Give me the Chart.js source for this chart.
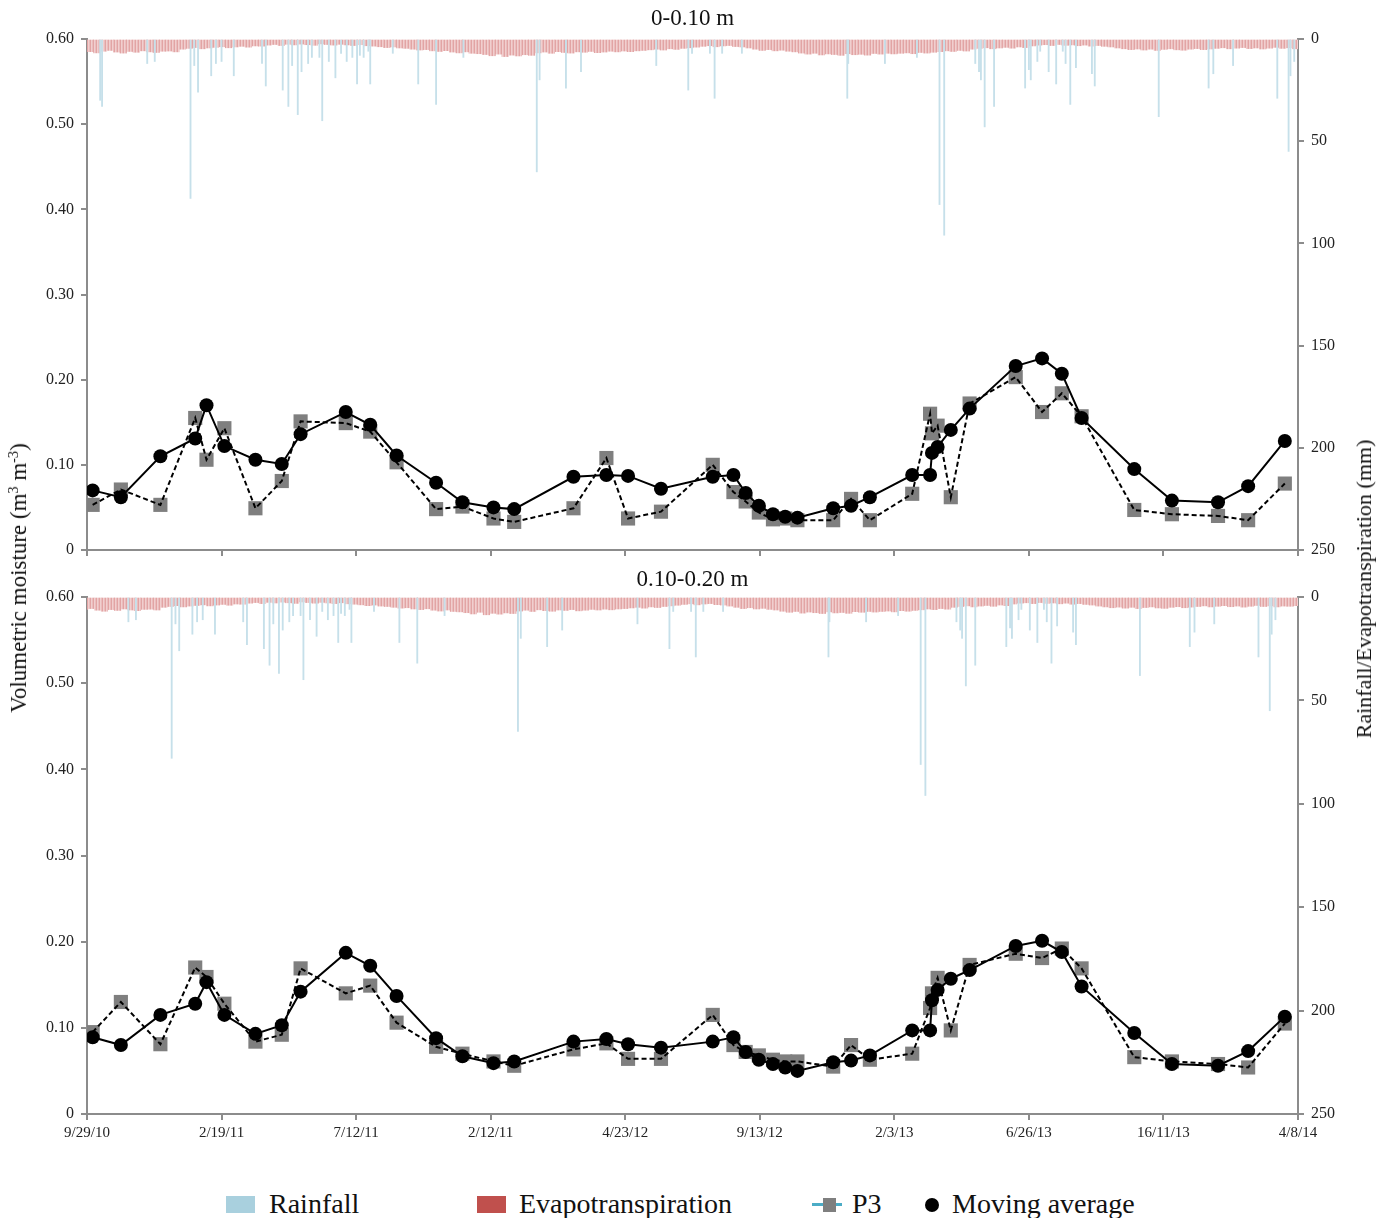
<!DOCTYPE html>
<html><head><meta charset="utf-8">
<script src="https://cdn.jsdelivr.net/npm/chart.js@4.4.0/dist/chart.umd.min.js"></script>
<style>
html,body{margin:0;padding:0;background:#fff;}
body{width:1394px;height:1218px;position:relative;overflow:hidden;font-family:'Liberation Serif','Times New Roman',serif;color:#111;}
.wrap{position:absolute;left:0;width:1394px;}
.ptitle{position:absolute;left:87px;width:1211px;text-align:center;font-size:23px;line-height:26px;white-space:nowrap;}
.vtitle{position:absolute;white-space:nowrap;line-height:24px;transform:translate(-50%,-50%) rotate(-90deg);}
.vtitle sup{font-size:0.62em;vertical-align:0.55em;line-height:0;}
.leg{position:absolute;font-size:28px;line-height:28px;white-space:nowrap;}
.sw{position:absolute;}
</style>
</head>
<body>
<div class="wrap" style="top:0;height:570px;"><canvas id="c1"></canvas></div>
<div class="wrap" style="top:560px;height:600px;"><canvas id="c2"></canvas></div>

<div class="ptitle" style="top:5px;">0-0.10 m</div>
<div class="ptitle" style="top:566px;">0.10-0.20 m</div>

<div class="vtitle" style="left:19px;top:578px;font-size:23px;">Volumetric moisture (m<sup>3</sup> m<sup>-3</sup>)</div>
<div class="vtitle" style="left:1364px;top:589px;font-size:22px;">Rainfall/Evapotranspiration (mm)</div>

<div class="sw" style="left:226px;top:1196px;width:29px;height:17px;background:#a9d0de;"></div>
<div class="leg" style="left:269px;top:1190px;">Rainfall</div>
<div class="sw" style="left:477px;top:1196px;width:29px;height:17px;background:#c0504d;"></div>
<div class="leg" style="left:519px;top:1190px;">Evapotranspiration</div>
<div class="sw" style="left:812px;top:1203px;width:30px;height:3px;background:#4bacc6;"></div>
<div class="sw" style="left:823px;top:1198px;width:13px;height:14px;background:#7f7f7f;"></div>
<div class="leg" style="left:852px;top:1190px;">P3</div>
<div class="sw" style="left:925px;top:1198px;width:14px;height:14px;border-radius:50%;background:#000;"></div>
<div class="leg" style="left:952px;top:1190px;">Moving average</div>

<script>
// ---------------- DATA ----------------
// x-axis tick labels (every 143 days from 9/29/10)
const tickLabels = ['9/29/10','2/19/11','7/12/11','2/12/11','4/23/12','9/13/12','2/3/13','6/26/13','16/11/13','4/8/14'];
const tickStepDays = 143;

// sampling dates (days after 9/29/10)
const sampleDays = [6,36,78,115,127,146,179,207,227,275,301,329,371,399,432,454,517,552,575,610,
                    665,687,700,714,729,742,755,793,812,832,877,896,898,904,918,938,987,1015,1036,1057,
                    1113,1153,1202,1234,1273];

// 0-0.10 m
const p3Shallow = [0.053,0.071,0.053,0.155,0.106,0.143,0.049,0.081,0.151,0.149,
                   0.139,0.103,0.048,0.051,0.037,0.033,0.049,0.108,0.037,0.045,
                   0.100,0.068,0.057,0.044,0.036,0.037,0.035,0.035,0.060,0.035,
                   0.066,0.160,0.137,0.146,0.062,0.172,0.203,0.162,0.184,0.157,
                   0.047,0.042,0.040,0.035,0.078];
const maShallow = [0.070,0.062,0.110,0.131,0.170,0.122,0.106,0.101,0.136,0.162,
                   0.147,0.111,0.079,0.056,0.050,0.048,0.086,0.088,0.087,0.072,
                   0.086,0.088,0.067,0.052,0.042,0.039,0.038,0.049,0.052,0.062,
                   0.088,0.088,0.114,0.121,0.141,0.166,0.216,0.225,0.207,0.155,
                   0.095,0.058,0.056,0.075,0.128];

// 0.10-0.20 m
const p3Deep = [0.095,0.130,0.081,0.170,0.159,0.128,0.084,0.092,0.169,0.140,
                0.149,0.106,0.078,0.070,0.061,0.056,0.075,0.082,0.064,0.064,
                0.115,0.080,0.072,0.068,0.063,0.061,0.061,0.055,0.080,0.063,
                0.070,0.123,0.140,0.158,0.097,0.173,0.186,0.181,0.192,0.169,
                0.066,0.061,0.058,0.054,0.105];
const maDeep = [0.089,0.080,0.115,0.128,0.153,0.115,0.093,0.103,0.142,0.187,
                0.172,0.137,0.088,0.067,0.059,0.061,0.084,0.087,0.081,0.077,
                0.084,0.089,0.072,0.063,0.058,0.054,0.050,0.060,0.062,0.068,
                0.097,0.097,0.132,0.144,0.157,0.167,0.195,0.201,0.188,0.148,
                0.094,0.058,0.056,0.073,0.113];

// rainfall events (day, mm)
const rainDays = [14,16,64,72,110,114,118,132,137,143,156,186,190,208,214,218,224,228,235,239,
                  247,250,257,264,270,276,282,287,290,294,299,301,325,352,371,400,478,481,509,525,
                  605,639,643,662,667,675,696,808,809,848,882,906,911,944,948,950,954,964,997,1001,
                  1003,1010,1013,1022,1030,1037,1040,1045,1051,1068,1071,1139,1192,1197,1218,1265,1277,1279,1283];
const rainMm   = [30,33,12,11,78,13,26,18,12,11,18,12,23,25,33,13,37,16,12,9,
                  9,40,11,19,7,11,9,22,8,9,6,22,7,22,32,9,65,20,24,16,
                  13,25,7,7,29,7,7,29,12,12,9,81,96,12,16,20,43,33,24,15,
                  20,11,6,16,22,6,12,32,14,17,23,38,24,17,13,29,55,18,11];

// evapotranspiration, weekly (mm), week 0 starting 9/29/10
const etWeekly = [6.2,6.8,6.0,5.6,6.4,6.9,6.1,6.5,5.8,6.3,6.6,6.0,
                  5.9,6.3,
                  5.0,4.6,4.2,4.8,4.4,
                  4.1,3.8,4.3,3.9,3.6,4.0,3.4,3.5,
                  3.0,2.7,3.2,2.6,2.9,2.5,2.8,3.1,2.4,2.7,3.0,2.6,2.9,3.2,2.8,3.3,3.5,
                  3.8,4.2,3.9,4.4,4.6,
                  5.0,5.4,5.2,5.8,6.1,5.7,6.4,6.8,6.3,7.0,7.2,
                  7.6,8.2,7.4,8.6,7.9,8.3,7.7,8.0,
                  6.8,6.4,7.0,6.2,6.6,6.9,6.3,6.5,6.1,6.7,6.4,6.0,6.3,5.9,6.2,5.8,5.6,
                  5.3,5.0,5.4,4.8,5.1,4.6,4.3,4.0,
                  3.6,3.3,3.8,3.4,3.2,3.7,3.9,
                  4.4,5.0,5.6,5.2,5.8,5.5,6.0,6.3,
                  6.9,7.4,7.0,7.8,7.3,7.6,8.0,7.2,7.7,7.5,7.9,7.1,7.4,7.0,7.3,
                  7.0,6.8,7.2,6.6,6.9,6.5,
                  6.2,5.8,6.1,5.6,5.9,
                  5.0,4.6,4.3,4.8,4.4,4.1,4.5,3.9,4.2,
                  3.4,3.0,2.8,3.2,2.7,3.1,2.9,3.3,3.0,3.5,3.2,3.6,3.9,
                  4.4,4.8,5.2,4.9,5.4,5.0,5.6,5.1,4.8,5.3,5.5,5.0,4.7,5.2,4.9,
                  4.6,4.3,4.8,4.5,4.2,4.7,4.4,4.9,4.5,4.1,4.6,4.3,4.8,4.4,4.5,4.2,4.6];

// ---------------- CHART ----------------
Chart.defaults.font.family = "'Liberation Serif','Times New Roman',serif";
Chart.defaults.color = '#222';

const axisGray = '#8c8c8c';
const spanDays = tickStepDays * (tickLabels.length - 1);

function etPattern(ctx){
  const c = document.createElement('canvas'); c.width = 3; c.height = 1;
  const g = c.getContext('2d');
  g.fillStyle = '#e2a4a4'; g.fillRect(0,0,1,1);
  g.fillStyle = '#f1cfcf'; g.fillRect(1,0,1,1);
  g.fillStyle = '#eabdbd'; g.fillRect(2,0,1,1);
  return ctx.createPattern(c,'repeat');
}

function makeChart(id, p3, ma, barShift, showXLabels, xAxisH, padTop){
  const canvas = document.getElementById(id);
  const pts = arr => sampleDays.map((d,i)=>({x:d, y:arr[i]}));
  const rainPts = rainDays.map((d,i)=>({x:d, y:rainMm[i]}));
  const etPts = etWeekly.map((v,i)=>({x:i*7+3.5, y:v}));
  const gridOpts = {display:true, drawOnChartArea:false, drawTicks:true, tickLength:6, color:axisGray, lineWidth:2, offset:false};
  const borderOpts = {display:true, color:axisGray, width:2};
  return new Chart(canvas, {
    type:'line',
    data:{datasets:[
      {label:'Moving average', data:pts(ma), xAxisID:'x', yAxisID:'y', order:0,
       borderColor:'#000', backgroundColor:'#000', borderWidth:2, tension:0,
       pointStyle:'circle', pointRadius:7, pointBackgroundColor:'#000', pointBorderColor:'#000', pointBorderWidth:0},
      {label:'P3 line', data:pts(p3), xAxisID:'x', yAxisID:'y', order:1,
       borderColor:'#000', borderWidth:2, borderDash:[5,3], tension:0, pointRadius:0},
      {label:'P3', data:pts(p3), xAxisID:'x', yAxisID:'y', order:2, showLine:false,
       pointStyle:'rect', pointRadius:10, pointBackgroundColor:'#7f7f7f', pointBorderColor:'#7f7f7f', pointBorderWidth:0},
      {type:'bar', label:'Rainfall', data:rainPts, xAxisID:'xb', yAxisID:'y2', order:3,
       backgroundColor:'#c6e0ea', barThickness:1.2, grouped:false, clip:0},
      {type:'bar', label:'Evapotranspiration', data:etPts, xAxisID:'xb', yAxisID:'y2', order:4,
       backgroundColor:etPattern(canvas.getContext('2d')), barThickness:6.59, grouped:false, clip:0}
    ]},
    options:{
      responsive:true, maintainAspectRatio:false, animation:false, events:[],
      layout:{padding:{top:padTop, left:0, right:0, bottom:0}},
      plugins:{legend:{display:false}, tooltip:{enabled:false}, title:{display:false}},
      scales:{
        x:{type:'linear', position:'bottom', min:0, max:spanDays, offset:false,
           ticks:{display:showXLabels, stepSize:tickStepDays, autoSkip:false, maxRotation:0, minRotation:0,
                  font:{size:15}, color:'#222', padding:4,
                  callback:(v)=>{ const k = Math.round(v/tickStepDays); return tickLabels[k]; }},
           grid:gridOpts, border:borderOpts,
           afterFit:s=>{ s.height = xAxisH; }},
        xb:{type:'linear', display:false, min:barShift, max:spanDays+barShift, offset:false},
        y:{type:'linear', position:'left', min:0, max:0.6,
           ticks:{stepSize:0.1, font:{size:16}, color:'#222', padding:7,
                  callback:v=> Math.abs(v) < 1e-9 ? '0' : v.toFixed(2)},
           grid:gridOpts, border:borderOpts,
           afterFit:s=>{ s.width = 87; }},
        y2:{type:'linear', position:'right', reverse:true, min:0, max:250,
           ticks:{stepSize:50, font:{size:16}, color:'#222', padding:7},
           grid:gridOpts, border:borderOpts,
           afterFit:s=>{ s.width = 96; }}
      }
    }
  });
}

makeChart('c1', p3Shallow, maShallow, 0, false, 20, 39);
makeChart('c2', p3Deep, maDeep, 20, true, 46, 37);
</script>
</body></html>
